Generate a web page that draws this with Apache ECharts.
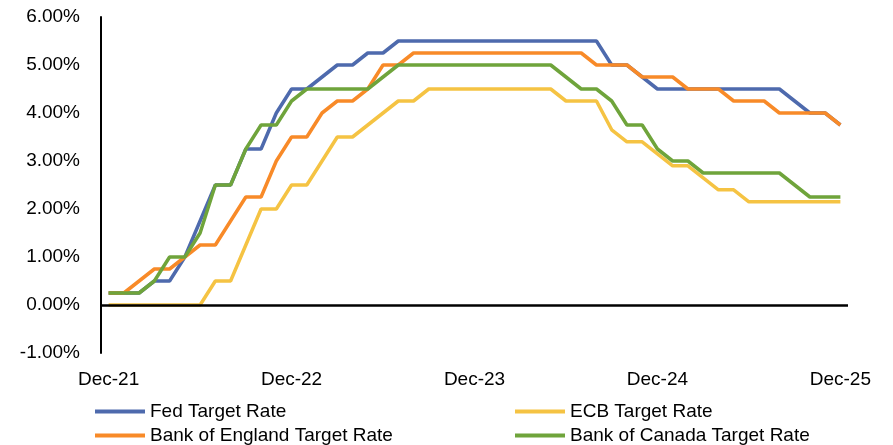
<!DOCTYPE html>
<html>
<head>
<meta charset="utf-8">
<script src="https://cdn.jsdelivr.net/npm/echarts@6/dist/echarts.min.js"></script>
<style>
  html, body { margin: 0; padding: 0; background: #fff; }
  #chart { width: 893px; height: 445px; }
</style>
</head>
<body>
<div id="chart"></div>
<script>
// month-end policy rates, Dec-21 .. Dec-25
const months = [
  "Dec-21","Jan-22","Feb-22","Mar-22","Apr-22","May-22","Jun-22","Jul-22","Aug-22","Sep-22","Oct-22","Nov-22",
  "Dec-22","Jan-23","Feb-23","Mar-23","Apr-23","May-23","Jun-23","Jul-23","Aug-23","Sep-23","Oct-23","Nov-23",
  "Dec-23","Jan-24","Feb-24","Mar-24","Apr-24","May-24","Jun-24","Jul-24","Aug-24","Sep-24","Oct-24","Nov-24",
  "Dec-24","Jan-25","Feb-25","Mar-25","Apr-25","May-25","Jun-25","Jul-25","Aug-25","Sep-25","Oct-25","Nov-25",
  "Dec-25"
];

const fedRate = [
  0.25,0.25,0.25,0.5,0.5,1.0,1.75,2.5,2.5,3.25,3.25,4.0,
  4.5,4.5,4.75,5.0,5.0,5.25,5.25,5.5,5.5,5.5,5.5,5.5,
  5.5,5.5,5.5,5.5,5.5,5.5,5.5,5.5,5.5,5.0,5.0,4.75,
  4.5,4.5,4.5,4.5,4.5,4.5,4.5,4.5,4.5,4.25,4.0,4.0,
  3.75
];

const ecbRate = [
  0,0,0,0,0,0,0,0.5,0.5,1.25,2.0,2.0,
  2.5,2.5,3.0,3.5,3.5,3.75,4.0,4.25,4.25,4.5,4.5,4.5,
  4.5,4.5,4.5,4.5,4.5,4.5,4.25,4.25,4.25,3.65,3.4,3.4,
  3.15,2.9,2.9,2.65,2.4,2.4,2.15,2.15,2.15,2.15,2.15,2.15,
  2.15
];

const boeRate = [
  0.25,0.25,0.5,0.75,0.75,1.0,1.25,1.25,1.75,2.25,2.25,3.0,
  3.5,3.5,4.0,4.25,4.25,4.5,5.0,5.0,5.25,5.25,5.25,5.25,
  5.25,5.25,5.25,5.25,5.25,5.25,5.25,5.25,5.0,5.0,5.0,4.75,
  4.75,4.75,4.5,4.5,4.5,4.25,4.25,4.25,4.0,4.0,4.0,4.0,
  3.75
];

const bocRate = [
  0.25,0.25,0.25,0.5,1.0,1.0,1.5,2.5,2.5,3.25,3.75,3.75,
  4.25,4.5,4.5,4.5,4.5,4.5,4.75,5.0,5.0,5.0,5.0,5.0,
  5.0,5.0,5.0,5.0,5.0,5.0,4.75,4.5,4.5,4.25,3.75,3.75,
  3.25,3.0,3.0,2.75,2.75,2.75,2.75,2.75,2.75,2.5,2.25,2.25,
  2.25
];

const yTicks = { min: -1, max: 6, step: 1 };

const font = "Liberation Sans";
const colors = {
  fed: "#4e6aad",
  ecb: "#f5c343",
  boe: "#f88a28",
  boc: "#6fa43b",
};

function lineSeries(name, data, color) {
  return {
    name: name,
    type: "line",
    data: data,
    symbol: "none",
    lineStyle: { color: color, width: 3.5 },
    itemStyle: { color: color },
  };
}

// one legend per entry so the 2x2 block sits where it should
function legendItem(name, left, top) {
  return {
    data: [name],
    left: left,
    top: top,
    padding: 0,
    icon: "rect",
    itemWidth: 50,
    itemHeight: 4,
    textStyle: { fontFamily: font, fontSize: 19, color: "#000" },
  };
}

const chart = echarts.init(document.getElementById("chart"));

const series = [
  lineSeries("Fed Target Rate", fedRate, colors.fed),
  lineSeries("ECB Target Rate", ecbRate, colors.ecb),
  lineSeries("Bank of England Target Rate", boeRate, colors.boe),
  lineSeries("Bank of Canada Target Rate", bocRate, colors.boc),
];
// zero line drawn across the plot, axis labels stay at the bottom
series[0].markLine = {
  silent: true,
  symbol: "none",
  label: { show: false },
  lineStyle: { color: "#000", width: 2.5, type: "solid" },
  data: [{ yAxis: 0 }],
};

chart.setOption({
  animation: false,
  textStyle: { fontFamily: font },
  grid: { left: 101, right: 45, top: 17, bottom: 92 },
  legend: [
    legendItem("Fed Target Rate", 95, 402),
    legendItem("Bank of England Target Rate", 95, 426),
    legendItem("ECB Target Rate", 515, 402),
    legendItem("Bank of Canada Target Rate", 515, 426),
  ],
  xAxis: {
    type: "category",
    data: months,
    boundaryGap: true,
    axisLine: { show: false, onZero: false },
    axisTick: { show: false },
    axisLabel: {
      interval: 11,
      margin: 17,
      fontFamily: font,
      fontSize: 19,
      color: "#000",
    },
  },
  yAxis: {
    type: "value",
    min: yTicks.min,
    max: yTicks.max,
    interval: yTicks.step,
    splitLine: { show: false },
    axisTick: { show: false },
    axisLine: { show: true, lineStyle: { color: "#000", width: 2 } },
    axisLabel: {
      margin: 21,
      fontFamily: font,
      fontSize: 19,
      color: "#000",
      formatter: (v) => v.toFixed(2) + "%",
    },
  },
  series: series,
});
</script>
</body>
</html>
